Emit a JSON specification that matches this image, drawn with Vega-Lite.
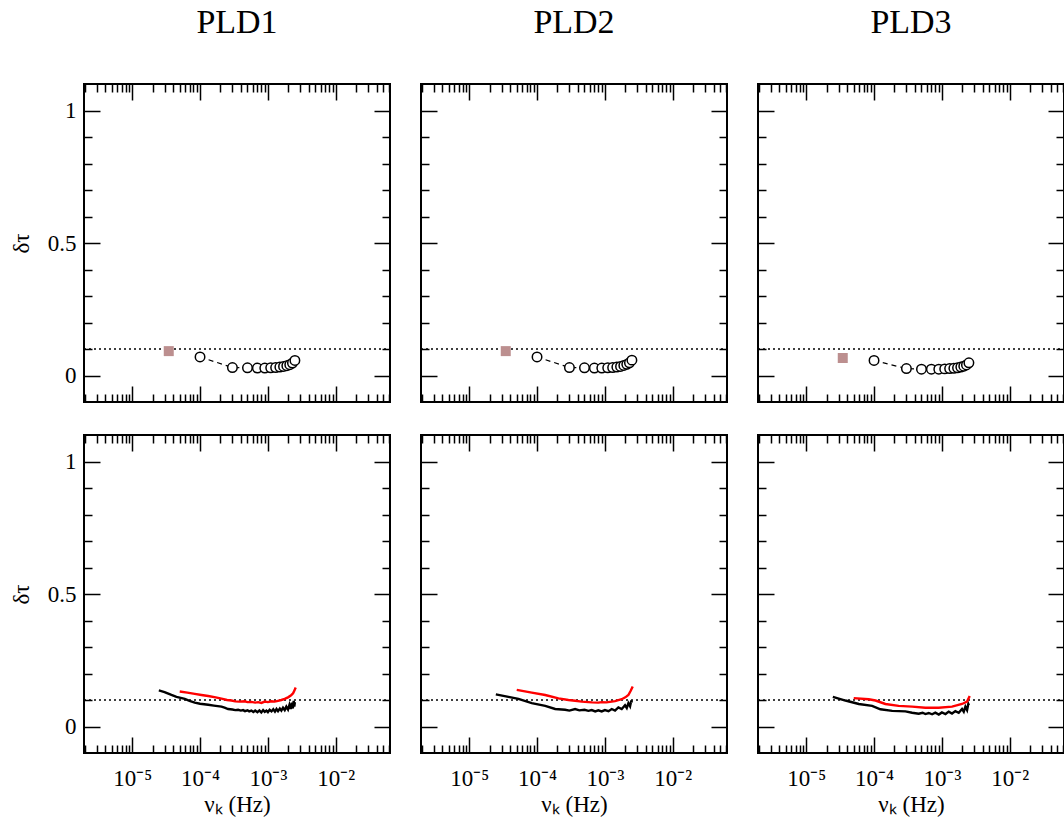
{
  "$schema": "https://vega.github.io/schema/vega-lite/v6.json",
  "padding": {"left": 9, "top": 5, "right": 0, "bottom": 0},
  "background": "white",
  "config": {
    "font": "Liberation Serif",
    "view": {"stroke": "black", "strokeWidth": 2},
    "axis": {"domain": false, "grid": false, "tickColor": "black", "tickWidth": 1.5, "labelFont": "Liberation Serif", "labelFontSize": 23, "labelColor": "black", "titleFont": "Liberation Serif", "titleFontSize": 23, "titleFontWeight": "normal", "titleColor": "black", "labelOverlap": false, "labelFlush": false, "labelBound": false},
    "title": {"font": "Liberation Serif", "fontSize": 34, "fontWeight": "normal", "anchor": "middle", "frame": "group", "offset": 43, "baseline": "alphabetic", "color": "black"}
  },
  "datasets": {
    "sq": [
      {"p": "PLD1", "x": 3.46e-5, "y": 0.092},
      {"p": "PLD2", "x": 3.46e-5, "y": 0.092},
      {"p": "PLD3", "x": 3.46e-5, "y": 0.066}
    ],
    "circ": [
      {"p": "PLD1", "x": 1e-4, "y": 0.070}, {"p": "PLD1", "x": 3e-4, "y": 0.030}, {"p": "PLD1", "x": 5e-4, "y": 0.029}, {"p": "PLD1", "x": 7e-4, "y": 0.028}, {"p": "PLD1", "x": 9e-4, "y": 0.028}, {"p": "PLD1", "x": 0.0011, "y": 0.029}, {"p": "PLD1", "x": 0.0013, "y": 0.030}, {"p": "PLD1", "x": 0.0015, "y": 0.032}, {"p": "PLD1", "x": 0.0017, "y": 0.034}, {"p": "PLD1", "x": 0.0019, "y": 0.037}, {"p": "PLD1", "x": 0.0021, "y": 0.041}, {"p": "PLD1", "x": 0.0023, "y": 0.047}, {"p": "PLD1", "x": 0.0025, "y": 0.057},
      {"p": "PLD2", "x": 1e-4, "y": 0.070}, {"p": "PLD2", "x": 3e-4, "y": 0.030}, {"p": "PLD2", "x": 5e-4, "y": 0.029}, {"p": "PLD2", "x": 7e-4, "y": 0.028}, {"p": "PLD2", "x": 9e-4, "y": 0.028}, {"p": "PLD2", "x": 0.0011, "y": 0.029}, {"p": "PLD2", "x": 0.0013, "y": 0.030}, {"p": "PLD2", "x": 0.0015, "y": 0.032}, {"p": "PLD2", "x": 0.0017, "y": 0.034}, {"p": "PLD2", "x": 0.0019, "y": 0.038}, {"p": "PLD2", "x": 0.0021, "y": 0.042}, {"p": "PLD2", "x": 0.0023, "y": 0.048}, {"p": "PLD2", "x": 0.0025, "y": 0.058},
      {"p": "PLD3", "x": 1e-4, "y": 0.057}, {"p": "PLD3", "x": 3e-4, "y": 0.026}, {"p": "PLD3", "x": 5e-4, "y": 0.024}, {"p": "PLD3", "x": 7e-4, "y": 0.024}, {"p": "PLD3", "x": 9e-4, "y": 0.024}, {"p": "PLD3", "x": 0.0011, "y": 0.025}, {"p": "PLD3", "x": 0.0013, "y": 0.026}, {"p": "PLD3", "x": 0.0015, "y": 0.027}, {"p": "PLD3", "x": 0.0017, "y": 0.029}, {"p": "PLD3", "x": 0.0019, "y": 0.032}, {"p": "PLD3", "x": 0.0021, "y": 0.035}, {"p": "PLD3", "x": 0.0023, "y": 0.040}, {"p": "PLD3", "x": 0.0025, "y": 0.048}
    ],
    "ln": [
      {"p": "PLD1", "s": "b", "x": 2.47e-5, "y": 0.136}, {"p": "PLD1", "s": "b", "x": 3.0e-5, "y": 0.130}, {"p": "PLD1", "s": "b", "x": 3.79e-5, "y": 0.119}, {"p": "PLD1", "s": "b", "x": 4.5e-5, "y": 0.112}, {"p": "PLD1", "s": "b", "x": 5.96e-5, "y": 0.104}, {"p": "PLD1", "s": "b", "x": 7e-5, "y": 0.097}, {"p": "PLD1", "s": "b", "x": 8.36e-5, "y": 0.090}, {"p": "PLD1", "s": "b", "x": 1.0e-4, "y": 0.086}, {"p": "PLD1", "s": "b", "x": 1.32e-4, "y": 0.082}, {"p": "PLD1", "s": "b", "x": 1.6e-4, "y": 0.079}, {"p": "PLD1", "s": "b", "x": 2.07e-4, "y": 0.075}, {"p": "PLD1", "s": "b", "x": 2.3e-4, "y": 0.071}, {"p": "PLD1", "s": "b", "x": 2.59e-4, "y": 0.066}, {"p": "PLD1", "s": "b", "x": 3.0e-4, "y": 0.064}, {"p": "PLD1", "s": "b", "x": 3.3e-4, "y": 0.062}, {"p": "PLD1", "s": "b", "x": 3.64e-4, "y": 0.063}, {"p": "PLD1", "s": "b", "x": 4.0e-4, "y": 0.060}, {"p": "PLD1", "s": "b", "x": 4.3e-4, "y": 0.062}, {"p": "PLD1", "s": "b", "x": 4.6e-4, "y": 0.058}, {"p": "PLD1", "s": "b", "x": 5.0e-4, "y": 0.061}, {"p": "PLD1", "s": "b", "x": 5.3e-4, "y": 0.057}, {"p": "PLD1", "s": "b", "x": 5.71e-4, "y": 0.060}, {"p": "PLD1", "s": "b", "x": 6.1e-4, "y": 0.055}, {"p": "PLD1", "s": "b", "x": 6.5e-4, "y": 0.060}, {"p": "PLD1", "s": "b", "x": 7.0e-4, "y": 0.054}, {"p": "PLD1", "s": "b", "x": 7.5e-4, "y": 0.061}, {"p": "PLD1", "s": "b", "x": 8.0e-4, "y": 0.053}, {"p": "PLD1", "s": "b", "x": 8.5e-4, "y": 0.062}, {"p": "PLD1", "s": "b", "x": 9.0e-4, "y": 0.055}, {"p": "PLD1", "s": "b", "x": 9.5e-4, "y": 0.060}, {"p": "PLD1", "s": "b", "x": 0.001, "y": 0.054}, {"p": "PLD1", "s": "b", "x": 0.00106, "y": 0.063}, {"p": "PLD1", "s": "b", "x": 0.00113, "y": 0.057}, {"p": "PLD1", "s": "b", "x": 0.0012, "y": 0.065}, {"p": "PLD1", "s": "b", "x": 0.00127, "y": 0.056}, {"p": "PLD1", "s": "b", "x": 0.00134, "y": 0.066}, {"p": "PLD1", "s": "b", "x": 0.00141, "y": 0.058}, {"p": "PLD1", "s": "b", "x": 0.0015, "y": 0.068}, {"p": "PLD1", "s": "b", "x": 0.00158, "y": 0.060}, {"p": "PLD1", "s": "b", "x": 0.00167, "y": 0.071}, {"p": "PLD1", "s": "b", "x": 0.00177, "y": 0.062}, {"p": "PLD1", "s": "b", "x": 0.00187, "y": 0.075}, {"p": "PLD1", "s": "b", "x": 0.00198, "y": 0.064}, {"p": "PLD1", "s": "b", "x": 0.00208, "y": 0.082}, {"p": "PLD1", "s": "b", "x": 0.00217, "y": 0.066}, {"p": "PLD1", "s": "b", "x": 0.00226, "y": 0.090}, {"p": "PLD1", "s": "b", "x": 0.00233, "y": 0.068}, {"p": "PLD1", "s": "b", "x": 0.0024, "y": 0.097}, {"p": "PLD1", "s": "b", "x": 0.00245, "y": 0.075}, {"p": "PLD1", "s": "b", "x": 0.0025, "y": 0.092},
      {"p": "PLD1", "s": "r", "x": 5.02e-5, "y": 0.132}, {"p": "PLD1", "s": "r", "x": 6.5e-5, "y": 0.128}, {"p": "PLD1", "s": "r", "x": 8.36e-5, "y": 0.123}, {"p": "PLD1", "s": "r", "x": 1.05e-4, "y": 0.119}, {"p": "PLD1", "s": "r", "x": 1.32e-4, "y": 0.115}, {"p": "PLD1", "s": "r", "x": 1.7e-4, "y": 0.110}, {"p": "PLD1", "s": "r", "x": 2.07e-4, "y": 0.105}, {"p": "PLD1", "s": "r", "x": 2.5e-4, "y": 0.100}, {"p": "PLD1", "s": "r", "x": 2.9e-4, "y": 0.098}, {"p": "PLD1", "s": "r", "x": 3.3e-4, "y": 0.095}, {"p": "PLD1", "s": "r", "x": 3.8e-4, "y": 0.094}, {"p": "PLD1", "s": "r", "x": 4.55e-4, "y": 0.095}, {"p": "PLD1", "s": "r", "x": 5.0e-4, "y": 0.092}, {"p": "PLD1", "s": "r", "x": 5.7e-4, "y": 0.093}, {"p": "PLD1", "s": "r", "x": 6.5e-4, "y": 0.090}, {"p": "PLD1", "s": "r", "x": 7.2e-4, "y": 0.092}, {"p": "PLD1", "s": "r", "x": 8.02e-4, "y": 0.089}, {"p": "PLD1", "s": "r", "x": 9.0e-4, "y": 0.094}, {"p": "PLD1", "s": "r", "x": 0.001, "y": 0.092}, {"p": "PLD1", "s": "r", "x": 0.00113, "y": 0.095}, {"p": "PLD1", "s": "r", "x": 0.00126, "y": 0.094}, {"p": "PLD1", "s": "r", "x": 0.00141, "y": 0.097}, {"p": "PLD1", "s": "r", "x": 0.00158, "y": 0.100}, {"p": "PLD1", "s": "r", "x": 0.00177, "y": 0.104}, {"p": "PLD1", "s": "r", "x": 0.00198, "y": 0.110}, {"p": "PLD1", "s": "r", "x": 0.0022, "y": 0.118}, {"p": "PLD1", "s": "r", "x": 0.00235, "y": 0.125}, {"p": "PLD1", "s": "r", "x": 0.00245, "y": 0.135}, {"p": "PLD1", "s": "r", "x": 0.00257, "y": 0.147},
      {"p": "PLD2", "s": "b", "x": 2.47e-5, "y": 0.121}, {"p": "PLD2", "s": "b", "x": 3.79e-5, "y": 0.112}, {"p": "PLD2", "s": "b", "x": 5.32e-5, "y": 0.104}, {"p": "PLD2", "s": "b", "x": 8.36e-5, "y": 0.088}, {"p": "PLD2", "s": "b", "x": 1.32e-4, "y": 0.078}, {"p": "PLD2", "s": "b", "x": 1.85e-4, "y": 0.066}, {"p": "PLD2", "s": "b", "x": 2.59e-4, "y": 0.063}, {"p": "PLD2", "s": "b", "x": 3.0e-4, "y": 0.060}, {"p": "PLD2", "s": "b", "x": 3.64e-4, "y": 0.066}, {"p": "PLD2", "s": "b", "x": 4.2e-4, "y": 0.061}, {"p": "PLD2", "s": "b", "x": 5.0e-4, "y": 0.063}, {"p": "PLD2", "s": "b", "x": 5.71e-4, "y": 0.059}, {"p": "PLD2", "s": "b", "x": 6.4e-4, "y": 0.062}, {"p": "PLD2", "s": "b", "x": 7.2e-4, "y": 0.057}, {"p": "PLD2", "s": "b", "x": 8.0e-4, "y": 0.061}, {"p": "PLD2", "s": "b", "x": 8.97e-4, "y": 0.057}, {"p": "PLD2", "s": "b", "x": 0.001, "y": 0.062}, {"p": "PLD2", "s": "b", "x": 0.00113, "y": 0.058}, {"p": "PLD2", "s": "b", "x": 0.00126, "y": 0.066}, {"p": "PLD2", "s": "b", "x": 0.00141, "y": 0.060}, {"p": "PLD2", "s": "b", "x": 0.00158, "y": 0.072}, {"p": "PLD2", "s": "b", "x": 0.00177, "y": 0.066}, {"p": "PLD2", "s": "b", "x": 0.00198, "y": 0.080}, {"p": "PLD2", "s": "b", "x": 0.0021, "y": 0.070}, {"p": "PLD2", "s": "b", "x": 0.00222, "y": 0.088}, {"p": "PLD2", "s": "b", "x": 0.00235, "y": 0.076}, {"p": "PLD2", "s": "b", "x": 0.00245, "y": 0.098}, {"p": "PLD2", "s": "b", "x": 0.0025, "y": 0.090},
      {"p": "PLD2", "s": "r", "x": 5.02e-5, "y": 0.138}, {"p": "PLD2", "s": "r", "x": 8.36e-5, "y": 0.128}, {"p": "PLD2", "s": "r", "x": 1.32e-4, "y": 0.119}, {"p": "PLD2", "s": "r", "x": 2.07e-4, "y": 0.106}, {"p": "PLD2", "s": "r", "x": 2.9e-4, "y": 0.100}, {"p": "PLD2", "s": "r", "x": 3.64e-4, "y": 0.097}, {"p": "PLD2", "s": "r", "x": 4.55e-4, "y": 0.094}, {"p": "PLD2", "s": "r", "x": 5.7e-4, "y": 0.092}, {"p": "PLD2", "s": "r", "x": 6.5e-4, "y": 0.091}, {"p": "PLD2", "s": "r", "x": 8.02e-4, "y": 0.090}, {"p": "PLD2", "s": "r", "x": 9.0e-4, "y": 0.092}, {"p": "PLD2", "s": "r", "x": 0.00105, "y": 0.091}, {"p": "PLD2", "s": "r", "x": 0.00126, "y": 0.094}, {"p": "PLD2", "s": "r", "x": 0.00141, "y": 0.096}, {"p": "PLD2", "s": "r", "x": 0.00177, "y": 0.103}, {"p": "PLD2", "s": "r", "x": 0.002, "y": 0.110}, {"p": "PLD2", "s": "r", "x": 0.00222, "y": 0.119}, {"p": "PLD2", "s": "r", "x": 0.0024, "y": 0.135}, {"p": "PLD2", "s": "r", "x": 0.00257, "y": 0.151},
      {"p": "PLD3", "s": "b", "x": 2.47e-5, "y": 0.112}, {"p": "PLD3", "s": "b", "x": 3.79e-5, "y": 0.098}, {"p": "PLD3", "s": "b", "x": 5.96e-5, "y": 0.085}, {"p": "PLD3", "s": "b", "x": 9.37e-5, "y": 0.078}, {"p": "PLD3", "s": "b", "x": 1.24e-4, "y": 0.065}, {"p": "PLD3", "s": "b", "x": 1.85e-4, "y": 0.059}, {"p": "PLD3", "s": "b", "x": 2.9e-4, "y": 0.057}, {"p": "PLD3", "s": "b", "x": 3.64e-4, "y": 0.052}, {"p": "PLD3", "s": "b", "x": 4.55e-4, "y": 0.048}, {"p": "PLD3", "s": "b", "x": 5.2e-4, "y": 0.052}, {"p": "PLD3", "s": "b", "x": 5.71e-4, "y": 0.047}, {"p": "PLD3", "s": "b", "x": 6.4e-4, "y": 0.051}, {"p": "PLD3", "s": "b", "x": 7.17e-4, "y": 0.046}, {"p": "PLD3", "s": "b", "x": 8.0e-4, "y": 0.052}, {"p": "PLD3", "s": "b", "x": 9.0e-4, "y": 0.045}, {"p": "PLD3", "s": "b", "x": 0.001, "y": 0.053}, {"p": "PLD3", "s": "b", "x": 0.00113, "y": 0.047}, {"p": "PLD3", "s": "b", "x": 0.00126, "y": 0.056}, {"p": "PLD3", "s": "b", "x": 0.00141, "y": 0.049}, {"p": "PLD3", "s": "b", "x": 0.00158, "y": 0.058}, {"p": "PLD3", "s": "b", "x": 0.00177, "y": 0.052}, {"p": "PLD3", "s": "b", "x": 0.00198, "y": 0.066}, {"p": "PLD3", "s": "b", "x": 0.0021, "y": 0.056}, {"p": "PLD3", "s": "b", "x": 0.00222, "y": 0.075}, {"p": "PLD3", "s": "b", "x": 0.00235, "y": 0.062}, {"p": "PLD3", "s": "b", "x": 0.00245, "y": 0.085}, {"p": "PLD3", "s": "b", "x": 0.0025, "y": 0.080},
      {"p": "PLD3", "s": "r", "x": 5.02e-5, "y": 0.107}, {"p": "PLD3", "s": "r", "x": 8.36e-5, "y": 0.103}, {"p": "PLD3", "s": "r", "x": 1.05e-4, "y": 0.098}, {"p": "PLD3", "s": "r", "x": 1.47e-4, "y": 0.085}, {"p": "PLD3", "s": "r", "x": 2.31e-4, "y": 0.078}, {"p": "PLD3", "s": "r", "x": 3.64e-4, "y": 0.075}, {"p": "PLD3", "s": "r", "x": 5.71e-4, "y": 0.071}, {"p": "PLD3", "s": "r", "x": 8.97e-4, "y": 0.071}, {"p": "PLD3", "s": "r", "x": 0.00141, "y": 0.075}, {"p": "PLD3", "s": "r", "x": 0.00198, "y": 0.085}, {"p": "PLD3", "s": "r", "x": 0.00235, "y": 0.094}, {"p": "PLD3", "s": "r", "x": 0.00257, "y": 0.115}
    ]
  },
  "columns": 3,
  "spacing": {"row": 33, "column": 31},
  "bounds": "flush",
  "concat": [
    {
      "width": 306, "height": 318, "title": "PLD1",
      "resolve": {"axis": {"x": "independent", "y": "independent"}},
      "layer": [
        {"data": {"name": "sq"}, "transform": [{"filter": "datum.p == 'PLD1'"}], "mark": {"type": "rule", "color": "black", "strokeWidth": 1.5, "strokeDash": [2, 3]},
         "encoding": {"x": {"datum": 1.95e-6, "type": "quantitative", "scale": {"type": "log", "domain": [1.95e-6, 0.063], "nice": false}, "axis": {"orient": "top", "values": [2e-6,3e-6,4e-6,5e-6,6e-6,7e-6,8e-6,9e-6,2e-5,3e-5,4e-5,5e-5,6e-5,7e-5,8e-5,9e-5,2e-4,3e-4,4e-4,5e-4,6e-4,7e-4,8e-4,9e-4,0.002,0.003,0.004,0.005,0.006,0.007,0.008,0.009,0.02,0.03,0.04,0.05,0.06], "offset": -8, "tickSize": 8, "labels": false, "title": null}},
                      "x2": {"datum": 0.063},
                      "y": {"datum": 0.1, "type": "quantitative", "scale": {"domain": [-0.1, 1.1], "nice": false, "zero": false}, "axis": {"orient": "right", "values": [0.1,0.2,0.3,0.4,0.6,0.7,0.8,0.9], "offset": -8, "tickSize": 8, "labels": false, "title": null}}}},
        {"data": {"name": "circ"}, "transform": [{"filter": "datum.p == 'PLD1'"}], "mark": {"type": "line", "color": "black", "strokeWidth": 1.2, "strokeDash": [5, 4]},
         "encoding": {"x": {"field": "x", "type": "quantitative", "axis": {"orient": "bottom", "values": [2e-6,3e-6,4e-6,5e-6,6e-6,7e-6,8e-6,9e-6,2e-5,3e-5,4e-5,5e-5,6e-5,7e-5,8e-5,9e-5,2e-4,3e-4,4e-4,5e-4,6e-4,7e-4,8e-4,9e-4,0.002,0.003,0.004,0.005,0.006,0.007,0.008,0.009,0.02,0.03,0.04,0.05,0.06], "offset": -8, "tickSize": 8, "labels": false, "title": null}},
                      "y": {"field": "y", "type": "quantitative", "axis": {"orient": "left", "values": [0.1,0.2,0.3,0.4,0.6,0.7,0.8,0.9], "offset": -8, "tickSize": 8, "labels": false, "title": null}}}},
        {"data": {"name": "circ"}, "transform": [{"filter": "datum.p == 'PLD1'"}], "mark": {"type": "point", "shape": "circle", "filled": true, "fill": "white", "stroke": "black", "strokeWidth": 1.5, "size": 90, "opacity": 1},
         "encoding": {"x": {"field": "x", "type": "quantitative", "axis": {"orient": "bottom", "values": [1e-5, 1e-4, 0.001, 0.01], "offset": -16, "tickSize": 16, "labels": false, "title": null}},
                      "y": {"field": "y", "type": "quantitative", "axis": {"orient": "left", "values": [0, 0.5, 1], "offset": -16, "tickSize": 16, "labelExpr": "datum.value == 0.5 ? '0.5' : datum.value == 1 ? '1' : '0'", "labelPadding": 8, "title": "δτ", "titlePadding": 14}}}},
        {"data": {"name": "sq"}, "transform": [{"filter": "datum.p == 'PLD1'"}], "mark": {"type": "square", "color": "#bc8f8f", "opacity": 1, "size": 100},
         "encoding": {"x": {"field": "x", "type": "quantitative", "axis": {"orient": "top", "values": [1e-5, 1e-4, 0.001, 0.01], "offset": -16, "tickSize": 16, "labels": false, "title": null}},
                      "y": {"field": "y", "type": "quantitative", "axis": {"orient": "right", "values": [0, 0.5, 1], "offset": -16, "tickSize": 16, "labels": false, "title": null}}}}
      ]
    },
    {
      "width": 306, "height": 318, "title": "PLD2",
      "resolve": {"axis": {"x": "independent", "y": "independent"}},
      "layer": [
        {"data": {"name": "sq"}, "transform": [{"filter": "datum.p == 'PLD2'"}], "mark": {"type": "rule", "color": "black", "strokeWidth": 1.5, "strokeDash": [2, 3]},
         "encoding": {"x": {"datum": 1.95e-6, "type": "quantitative", "scale": {"type": "log", "domain": [1.95e-6, 0.063], "nice": false}, "axis": {"orient": "top", "values": [2e-6,3e-6,4e-6,5e-6,6e-6,7e-6,8e-6,9e-6,2e-5,3e-5,4e-5,5e-5,6e-5,7e-5,8e-5,9e-5,2e-4,3e-4,4e-4,5e-4,6e-4,7e-4,8e-4,9e-4,0.002,0.003,0.004,0.005,0.006,0.007,0.008,0.009,0.02,0.03,0.04,0.05,0.06], "offset": -8, "tickSize": 8, "labels": false, "title": null}},
                      "x2": {"datum": 0.063},
                      "y": {"datum": 0.1, "type": "quantitative", "scale": {"domain": [-0.1, 1.1], "nice": false, "zero": false}, "axis": {"orient": "right", "values": [0.1,0.2,0.3,0.4,0.6,0.7,0.8,0.9], "offset": -8, "tickSize": 8, "labels": false, "title": null}}}},
        {"data": {"name": "circ"}, "transform": [{"filter": "datum.p == 'PLD2'"}], "mark": {"type": "line", "color": "black", "strokeWidth": 1.2, "strokeDash": [5, 4]},
         "encoding": {"x": {"field": "x", "type": "quantitative", "axis": {"orient": "bottom", "values": [2e-6,3e-6,4e-6,5e-6,6e-6,7e-6,8e-6,9e-6,2e-5,3e-5,4e-5,5e-5,6e-5,7e-5,8e-5,9e-5,2e-4,3e-4,4e-4,5e-4,6e-4,7e-4,8e-4,9e-4,0.002,0.003,0.004,0.005,0.006,0.007,0.008,0.009,0.02,0.03,0.04,0.05,0.06], "offset": -8, "tickSize": 8, "labels": false, "title": null}},
                      "y": {"field": "y", "type": "quantitative", "axis": {"orient": "left", "values": [0.1,0.2,0.3,0.4,0.6,0.7,0.8,0.9], "offset": -8, "tickSize": 8, "labels": false, "title": null}}}},
        {"data": {"name": "circ"}, "transform": [{"filter": "datum.p == 'PLD2'"}], "mark": {"type": "point", "shape": "circle", "filled": true, "fill": "white", "stroke": "black", "strokeWidth": 1.5, "size": 90, "opacity": 1},
         "encoding": {"x": {"field": "x", "type": "quantitative", "axis": {"orient": "bottom", "values": [1e-5, 1e-4, 0.001, 0.01], "offset": -16, "tickSize": 16, "labels": false, "title": null}},
                      "y": {"field": "y", "type": "quantitative", "axis": {"orient": "left", "values": [0, 0.5, 1], "offset": -16, "tickSize": 16, "labels": false, "title": null}}}},
        {"data": {"name": "sq"}, "transform": [{"filter": "datum.p == 'PLD2'"}], "mark": {"type": "square", "color": "#bc8f8f", "opacity": 1, "size": 100},
         "encoding": {"x": {"field": "x", "type": "quantitative", "axis": {"orient": "top", "values": [1e-5, 1e-4, 0.001, 0.01], "offset": -16, "tickSize": 16, "labels": false, "title": null}},
                      "y": {"field": "y", "type": "quantitative", "axis": {"orient": "right", "values": [0, 0.5, 1], "offset": -16, "tickSize": 16, "labels": false, "title": null}}}}
      ]
    },
    {
      "width": 306, "height": 318, "title": "PLD3",
      "resolve": {"axis": {"x": "independent", "y": "independent"}},
      "layer": [
        {"data": {"name": "sq"}, "transform": [{"filter": "datum.p == 'PLD3'"}], "mark": {"type": "rule", "color": "black", "strokeWidth": 1.5, "strokeDash": [2, 3]},
         "encoding": {"x": {"datum": 1.95e-6, "type": "quantitative", "scale": {"type": "log", "domain": [1.95e-6, 0.063], "nice": false}, "axis": {"orient": "top", "values": [2e-6,3e-6,4e-6,5e-6,6e-6,7e-6,8e-6,9e-6,2e-5,3e-5,4e-5,5e-5,6e-5,7e-5,8e-5,9e-5,2e-4,3e-4,4e-4,5e-4,6e-4,7e-4,8e-4,9e-4,0.002,0.003,0.004,0.005,0.006,0.007,0.008,0.009,0.02,0.03,0.04,0.05,0.06], "offset": -8, "tickSize": 8, "labels": false, "title": null}},
                      "x2": {"datum": 0.063},
                      "y": {"datum": 0.1, "type": "quantitative", "scale": {"domain": [-0.1, 1.1], "nice": false, "zero": false}, "axis": {"orient": "right", "values": [0.1,0.2,0.3,0.4,0.6,0.7,0.8,0.9], "offset": -8, "tickSize": 8, "labels": false, "title": null}}}},
        {"data": {"name": "circ"}, "transform": [{"filter": "datum.p == 'PLD3'"}], "mark": {"type": "line", "color": "black", "strokeWidth": 1.2, "strokeDash": [5, 4]},
         "encoding": {"x": {"field": "x", "type": "quantitative", "axis": {"orient": "bottom", "values": [2e-6,3e-6,4e-6,5e-6,6e-6,7e-6,8e-6,9e-6,2e-5,3e-5,4e-5,5e-5,6e-5,7e-5,8e-5,9e-5,2e-4,3e-4,4e-4,5e-4,6e-4,7e-4,8e-4,9e-4,0.002,0.003,0.004,0.005,0.006,0.007,0.008,0.009,0.02,0.03,0.04,0.05,0.06], "offset": -8, "tickSize": 8, "labels": false, "title": null}},
                      "y": {"field": "y", "type": "quantitative", "axis": {"orient": "left", "values": [0.1,0.2,0.3,0.4,0.6,0.7,0.8,0.9], "offset": -8, "tickSize": 8, "labels": false, "title": null}}}},
        {"data": {"name": "circ"}, "transform": [{"filter": "datum.p == 'PLD3'"}], "mark": {"type": "point", "shape": "circle", "filled": true, "fill": "white", "stroke": "black", "strokeWidth": 1.5, "size": 90, "opacity": 1},
         "encoding": {"x": {"field": "x", "type": "quantitative", "axis": {"orient": "bottom", "values": [1e-5, 1e-4, 0.001, 0.01], "offset": -16, "tickSize": 16, "labels": false, "title": null}},
                      "y": {"field": "y", "type": "quantitative", "axis": {"orient": "left", "values": [0, 0.5, 1], "offset": -16, "tickSize": 16, "labels": false, "title": null}}}},
        {"data": {"name": "sq"}, "transform": [{"filter": "datum.p == 'PLD3'"}], "mark": {"type": "square", "color": "#bc8f8f", "opacity": 1, "size": 100},
         "encoding": {"x": {"field": "x", "type": "quantitative", "axis": {"orient": "top", "values": [1e-5, 1e-4, 0.001, 0.01], "offset": -16, "tickSize": 16, "labels": false, "title": null}},
                      "y": {"field": "y", "type": "quantitative", "axis": {"orient": "right", "values": [0, 0.5, 1], "offset": -16, "tickSize": 16, "labels": false, "title": null}}}}
      ]
    },
    {
      "width": 306, "height": 318,
      "resolve": {"axis": {"x": "independent", "y": "independent"}},
      "layer": [
        {"data": {"name": "sq"}, "transform": [{"filter": "datum.p == 'PLD1'"}], "mark": {"type": "rule", "color": "black", "strokeWidth": 1.5, "strokeDash": [2, 3]},
         "encoding": {"x": {"datum": 1.95e-6, "type": "quantitative", "scale": {"type": "log", "domain": [1.95e-6, 0.063], "nice": false}, "axis": {"orient": "bottom", "values": [2e-6,3e-6,4e-6,5e-6,6e-6,7e-6,8e-6,9e-6,2e-5,3e-5,4e-5,5e-5,6e-5,7e-5,8e-5,9e-5,2e-4,3e-4,4e-4,5e-4,6e-4,7e-4,8e-4,9e-4,0.002,0.003,0.004,0.005,0.006,0.007,0.008,0.009,0.02,0.03,0.04,0.05,0.06], "offset": -8, "tickSize": 8, "labels": false, "title": null}},
                      "x2": {"datum": 0.063},
                      "y": {"datum": 0.1, "type": "quantitative", "scale": {"domain": [-0.1, 1.1], "nice": false, "zero": false}, "axis": {"orient": "left", "values": [0.1,0.2,0.3,0.4,0.6,0.7,0.8,0.9], "offset": -8, "tickSize": 8, "labels": false, "title": null}}}},
        {"data": {"name": "ln"}, "transform": [{"filter": "datum.p == 'PLD1' && datum.s == 'b'"}], "mark": {"type": "line", "color": "black", "strokeWidth": 2.4},
         "encoding": {"x": {"field": "x", "type": "quantitative", "axis": {"orient": "bottom", "values": [1e-5, 1e-4, 0.001, 0.01], "offset": -16, "tickSize": 16, "labelExpr": "datum.value < 5e-5 ? '10⁻⁵' : datum.value < 5e-4 ? '10⁻⁴' : datum.value < 5e-3 ? '10⁻³' : '10⁻²'", "labelPadding": 14, "title": "νₖ (Hz)", "titlePadding": 3}},
                      "y": {"field": "y", "type": "quantitative", "axis": {"orient": "left", "values": [0, 0.5, 1], "offset": -16, "tickSize": 16, "labelExpr": "datum.value == 0.5 ? '0.5' : datum.value == 1 ? '1' : '0'", "labelPadding": 8, "title": "δτ", "titlePadding": 14}}}},
        {"data": {"name": "ln"}, "transform": [{"filter": "datum.p == 'PLD1' && datum.s == 'r'"}], "mark": {"type": "line", "color": "#ff0000", "strokeWidth": 2.4},
         "encoding": {"x": {"field": "x", "type": "quantitative", "axis": {"orient": "top", "values": [1e-5, 1e-4, 0.001, 0.01], "offset": -16, "tickSize": 16, "labels": false, "title": null}},
                      "y": {"field": "y", "type": "quantitative", "axis": {"orient": "right", "values": [0, 0.5, 1], "offset": -16, "tickSize": 16, "labels": false, "title": null}}}},
        {"data": {"name": "ln"}, "transform": [{"filter": "datum.p == 'PLD1' && datum.s == 'r'"}], "mark": {"type": "point", "opacity": 0},
         "encoding": {"x": {"field": "x", "type": "quantitative", "axis": {"orient": "top", "values": [2e-6,3e-6,4e-6,5e-6,6e-6,7e-6,8e-6,9e-6,2e-5,3e-5,4e-5,5e-5,6e-5,7e-5,8e-5,9e-5,2e-4,3e-4,4e-4,5e-4,6e-4,7e-4,8e-4,9e-4,0.002,0.003,0.004,0.005,0.006,0.007,0.008,0.009,0.02,0.03,0.04,0.05,0.06], "offset": -8, "tickSize": 8, "labels": false, "title": null}},
                      "y": {"field": "y", "type": "quantitative", "axis": {"orient": "right", "values": [0.1,0.2,0.3,0.4,0.6,0.7,0.8,0.9], "offset": -8, "tickSize": 8, "labels": false, "title": null}}}}
      ]
    },
    {
      "width": 306, "height": 318,
      "resolve": {"axis": {"x": "independent", "y": "independent"}},
      "layer": [
        {"data": {"name": "sq"}, "transform": [{"filter": "datum.p == 'PLD2'"}], "mark": {"type": "rule", "color": "black", "strokeWidth": 1.5, "strokeDash": [2, 3]},
         "encoding": {"x": {"datum": 1.95e-6, "type": "quantitative", "scale": {"type": "log", "domain": [1.95e-6, 0.063], "nice": false}, "axis": {"orient": "bottom", "values": [2e-6,3e-6,4e-6,5e-6,6e-6,7e-6,8e-6,9e-6,2e-5,3e-5,4e-5,5e-5,6e-5,7e-5,8e-5,9e-5,2e-4,3e-4,4e-4,5e-4,6e-4,7e-4,8e-4,9e-4,0.002,0.003,0.004,0.005,0.006,0.007,0.008,0.009,0.02,0.03,0.04,0.05,0.06], "offset": -8, "tickSize": 8, "labels": false, "title": null}},
                      "x2": {"datum": 0.063},
                      "y": {"datum": 0.1, "type": "quantitative", "scale": {"domain": [-0.1, 1.1], "nice": false, "zero": false}, "axis": {"orient": "left", "values": [0.1,0.2,0.3,0.4,0.6,0.7,0.8,0.9], "offset": -8, "tickSize": 8, "labels": false, "title": null}}}},
        {"data": {"name": "ln"}, "transform": [{"filter": "datum.p == 'PLD2' && datum.s == 'b'"}], "mark": {"type": "line", "color": "black", "strokeWidth": 2.4},
         "encoding": {"x": {"field": "x", "type": "quantitative", "axis": {"orient": "bottom", "values": [1e-5, 1e-4, 0.001, 0.01], "offset": -16, "tickSize": 16, "labelExpr": "datum.value < 5e-5 ? '10⁻⁵' : datum.value < 5e-4 ? '10⁻⁴' : datum.value < 5e-3 ? '10⁻³' : '10⁻²'", "labelPadding": 14, "title": "νₖ (Hz)", "titlePadding": 3}},
                      "y": {"field": "y", "type": "quantitative", "axis": {"orient": "left", "values": [0, 0.5, 1], "offset": -16, "tickSize": 16, "labels": false, "title": null}}}},
        {"data": {"name": "ln"}, "transform": [{"filter": "datum.p == 'PLD2' && datum.s == 'r'"}], "mark": {"type": "line", "color": "#ff0000", "strokeWidth": 2.4},
         "encoding": {"x": {"field": "x", "type": "quantitative", "axis": {"orient": "top", "values": [1e-5, 1e-4, 0.001, 0.01], "offset": -16, "tickSize": 16, "labels": false, "title": null}},
                      "y": {"field": "y", "type": "quantitative", "axis": {"orient": "right", "values": [0, 0.5, 1], "offset": -16, "tickSize": 16, "labels": false, "title": null}}}},
        {"data": {"name": "ln"}, "transform": [{"filter": "datum.p == 'PLD2' && datum.s == 'r'"}], "mark": {"type": "point", "opacity": 0},
         "encoding": {"x": {"field": "x", "type": "quantitative", "axis": {"orient": "top", "values": [2e-6,3e-6,4e-6,5e-6,6e-6,7e-6,8e-6,9e-6,2e-5,3e-5,4e-5,5e-5,6e-5,7e-5,8e-5,9e-5,2e-4,3e-4,4e-4,5e-4,6e-4,7e-4,8e-4,9e-4,0.002,0.003,0.004,0.005,0.006,0.007,0.008,0.009,0.02,0.03,0.04,0.05,0.06], "offset": -8, "tickSize": 8, "labels": false, "title": null}},
                      "y": {"field": "y", "type": "quantitative", "axis": {"orient": "right", "values": [0.1,0.2,0.3,0.4,0.6,0.7,0.8,0.9], "offset": -8, "tickSize": 8, "labels": false, "title": null}}}}
      ]
    },
    {
      "width": 306, "height": 318,
      "resolve": {"axis": {"x": "independent", "y": "independent"}},
      "layer": [
        {"data": {"name": "sq"}, "transform": [{"filter": "datum.p == 'PLD3'"}], "mark": {"type": "rule", "color": "black", "strokeWidth": 1.5, "strokeDash": [2, 3]},
         "encoding": {"x": {"datum": 1.95e-6, "type": "quantitative", "scale": {"type": "log", "domain": [1.95e-6, 0.063], "nice": false}, "axis": {"orient": "bottom", "values": [2e-6,3e-6,4e-6,5e-6,6e-6,7e-6,8e-6,9e-6,2e-5,3e-5,4e-5,5e-5,6e-5,7e-5,8e-5,9e-5,2e-4,3e-4,4e-4,5e-4,6e-4,7e-4,8e-4,9e-4,0.002,0.003,0.004,0.005,0.006,0.007,0.008,0.009,0.02,0.03,0.04,0.05,0.06], "offset": -8, "tickSize": 8, "labels": false, "title": null}},
                      "x2": {"datum": 0.063},
                      "y": {"datum": 0.1, "type": "quantitative", "scale": {"domain": [-0.1, 1.1], "nice": false, "zero": false}, "axis": {"orient": "left", "values": [0.1,0.2,0.3,0.4,0.6,0.7,0.8,0.9], "offset": -8, "tickSize": 8, "labels": false, "title": null}}}},
        {"data": {"name": "ln"}, "transform": [{"filter": "datum.p == 'PLD3' && datum.s == 'b'"}], "mark": {"type": "line", "color": "black", "strokeWidth": 2.4},
         "encoding": {"x": {"field": "x", "type": "quantitative", "axis": {"orient": "bottom", "values": [1e-5, 1e-4, 0.001, 0.01], "offset": -16, "tickSize": 16, "labelExpr": "datum.value < 5e-5 ? '10⁻⁵' : datum.value < 5e-4 ? '10⁻⁴' : datum.value < 5e-3 ? '10⁻³' : '10⁻²'", "labelPadding": 14, "title": "νₖ (Hz)", "titlePadding": 3}},
                      "y": {"field": "y", "type": "quantitative", "axis": {"orient": "left", "values": [0, 0.5, 1], "offset": -16, "tickSize": 16, "labels": false, "title": null}}}},
        {"data": {"name": "ln"}, "transform": [{"filter": "datum.p == 'PLD3' && datum.s == 'r'"}], "mark": {"type": "line", "color": "#ff0000", "strokeWidth": 2.4},
         "encoding": {"x": {"field": "x", "type": "quantitative", "axis": {"orient": "top", "values": [1e-5, 1e-4, 0.001, 0.01], "offset": -16, "tickSize": 16, "labels": false, "title": null}},
                      "y": {"field": "y", "type": "quantitative", "axis": {"orient": "right", "values": [0, 0.5, 1], "offset": -16, "tickSize": 16, "labels": false, "title": null}}}},
        {"data": {"name": "ln"}, "transform": [{"filter": "datum.p == 'PLD3' && datum.s == 'r'"}], "mark": {"type": "point", "opacity": 0},
         "encoding": {"x": {"field": "x", "type": "quantitative", "axis": {"orient": "top", "values": [2e-6,3e-6,4e-6,5e-6,6e-6,7e-6,8e-6,9e-6,2e-5,3e-5,4e-5,5e-5,6e-5,7e-5,8e-5,9e-5,2e-4,3e-4,4e-4,5e-4,6e-4,7e-4,8e-4,9e-4,0.002,0.003,0.004,0.005,0.006,0.007,0.008,0.009,0.02,0.03,0.04,0.05,0.06], "offset": -8, "tickSize": 8, "labels": false, "title": null}},
                      "y": {"field": "y", "type": "quantitative", "axis": {"orient": "right", "values": [0.1,0.2,0.3,0.4,0.6,0.7,0.8,0.9], "offset": -8, "tickSize": 8, "labels": false, "title": null}}}}
      ]
    }
  ]
}
